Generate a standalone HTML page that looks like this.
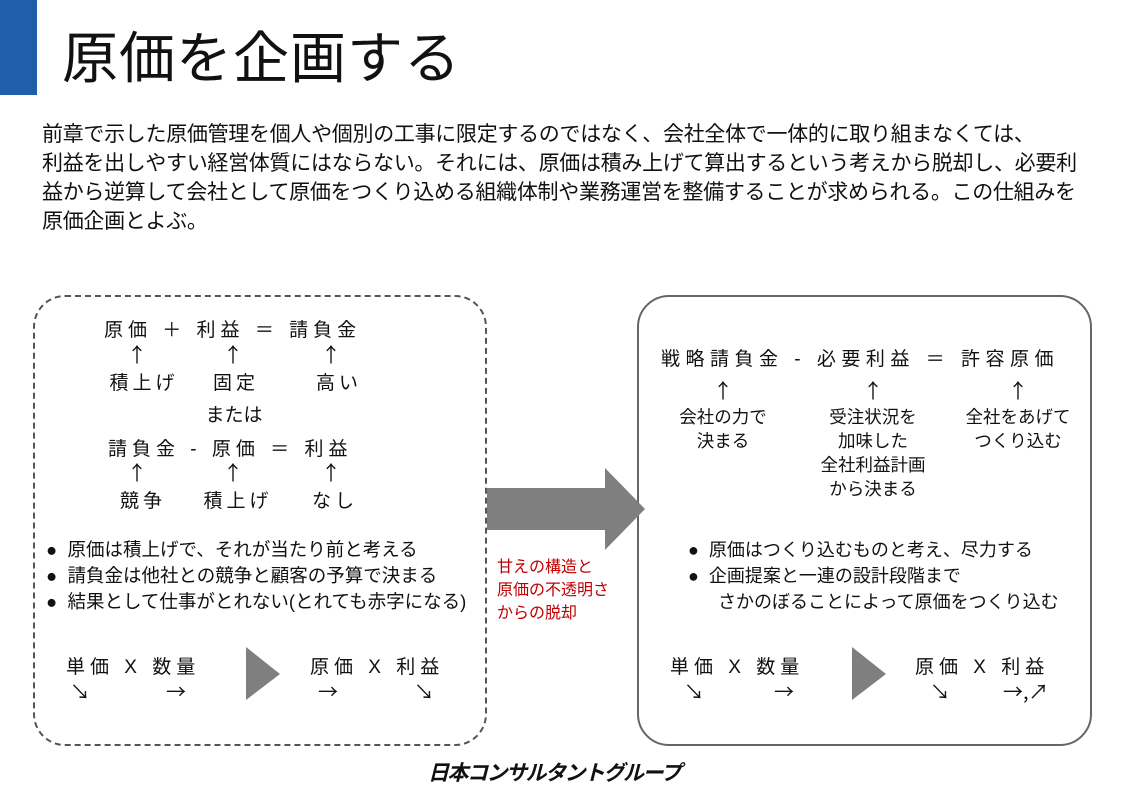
<!DOCTYPE html>
<html><head><meta charset="utf-8"><style>
body{margin:0;width:1123px;height:794px;background:#fff;position:relative;overflow:hidden;font-family:"Liberation Sans","Noto Sans CJK JP",sans-serif;color:#111}
.a{position:absolute;white-space:nowrap}
.t{font-size:19px}
.c{text-align:center;width:120px;margin-left:-60px}
.r{font-family:"Noto Sans CJK JP",sans-serif;font-size:20px}
</style></head><body>
<div class="a" style="left:0;top:0;width:37px;height:95px;background:#1f5ea8"></div>
<div class="a" style="left:62px;top:14px;font-size:56px;letter-spacing:1px">原価を企画する</div>
<div class="a" style="left:42px;top:120px;font-size:21px;line-height:29px;letter-spacing:-0.3px">前章で示した原価管理を個人や個別の工事に限定するのではなく、会社全体で一体的に取り組まなくては、<br>利益を出しやすい経営体質にはならない。それには、原価は積み上げて算出するという考えから脱却し、必要利<br>益から逆算して会社として原価をつくり込める組織体制や業務運営を整備することが求められる。この仕組みを<br>原価企画とよぶ。</div>

<div class="a" style="left:33px;top:295px;width:450px;height:447px;border:2px dashed #555;border-radius:32px"></div>
<div class="a" style="left:637px;top:295px;width:451px;height:447px;border:2px solid #666;border-radius:32px"></div>

<svg class="a" style="left:485px;top:466px" width="165" height="90"><polygon points="2,22 120,22 120,2 160,43 120,84 120,64 2,64" fill="#7f7f7f"/></svg>
<svg class="a" style="left:244px;top:645px" width="40" height="60"><polygon points="2,2 36,29 2,55" fill="#7f7f7f"/></svg>
<svg class="a" style="left:850px;top:645px" width="40" height="60"><polygon points="2,2 36,29 2,55" fill="#7f7f7f"/></svg>

<div class="a t" style="left:104px;top:315px;letter-spacing:5px">原価 ＋ 利益 ＝ 請負金</div>
<div class="a r c" style="left:137px;top:339px">↑</div><div class="a r c" style="left:233px;top:339px">↑</div><div class="a r c" style="left:331px;top:339px">↑</div>
<div class="a t c" style="left:144px;top:368px;letter-spacing:4px">積上げ</div><div class="a t c" style="left:236px;top:368px;letter-spacing:4px">固定</div><div class="a t c" style="left:339px;top:368px;letter-spacing:4px">高い</div>
<div class="a t c" style="left:234px;top:400px">または</div>
<div class="a t" style="left:108px;top:434px;letter-spacing:5px">請負金 ‐ 原価 ＝ 利益</div>
<div class="a r c" style="left:137px;top:457px">↑</div><div class="a r c" style="left:233px;top:457px">↑</div><div class="a r c" style="left:331px;top:457px">↑</div>
<div class="a t c" style="left:143px;top:486px;letter-spacing:4px">競争</div><div class="a t c" style="left:238px;top:486px;letter-spacing:4px">積上げ</div><div class="a t c" style="left:335px;top:486px;letter-spacing:4px">なし</div>

<div class="a" style="left:46px;top:537px;font-size:18.5px;line-height:26px">●&nbsp; 原価は積上げで、それが当たり前と考える<br>●&nbsp; 請負金は他社との競争と顧客の予算で決まる<br>●&nbsp; 結果として仕事がとれない(とれても赤字になる)</div>

<div class="a t" style="left:66px;top:652px;letter-spacing:5px">単価 X 数量</div>
<div class="a r" style="left:70px;top:676px">↘</div><div class="a r" style="left:166px;top:676px">→</div>
<div class="a t" style="left:310px;top:652px;letter-spacing:5px">原価 X 利益</div>
<div class="a r" style="left:318px;top:676px">→</div><div class="a r" style="left:414px;top:676px">↘</div>

<div class="a" style="left:497px;top:556px;font-size:16px;line-height:23px;color:#c00000">甘えの構造と<br>原価の不透明さ<br>からの脱却</div>

<div class="a t" style="left:661px;top:344px;letter-spacing:5.5px">戦略請負金 ‐ 必要利益 ＝ 許容原価</div>
<div class="a r c" style="left:723px;top:375px">↑</div><div class="a r c" style="left:873px;top:375px">↑</div><div class="a r c" style="left:1018px;top:375px">↑</div>
<div class="a c" style="left:723px;top:405px;font-size:17.5px;line-height:24px">会社の力で<br>決まる</div>
<div class="a c" style="left:873px;top:405px;font-size:17.5px;line-height:24px">受注状況を<br>加味した<br>全社利益計画<br>から決まる</div>
<div class="a c" style="left:1018px;top:405px;font-size:17.5px;line-height:24px">全社をあげて<br>つくり込む</div>

<div class="a" style="left:688px;top:537px;font-size:18px;line-height:26px">●&nbsp; 原価はつくり込むものと考え、尽力する<br>●&nbsp; 企画提案と一連の設計段階まで<br>&nbsp;&nbsp;&nbsp;&nbsp;&nbsp; さかのぼることによって原価をつくり込む</div>

<div class="a t" style="left:670px;top:652px;letter-spacing:5px">単価 X 数量</div>
<div class="a r" style="left:684px;top:676px">↘</div><div class="a r" style="left:774px;top:676px">→</div>
<div class="a t" style="left:915px;top:652px;letter-spacing:5px">原価 X 利益</div>
<div class="a r" style="left:930px;top:676px">↘</div><div class="a r" style="left:1003px;top:676px">→,↗</div>

<div class="a" style="left:428px;top:757px;font-size:21px;font-weight:bold;font-style:italic;letter-spacing:-1.5px">日本コンサルタントグループ</div>
</body></html>
